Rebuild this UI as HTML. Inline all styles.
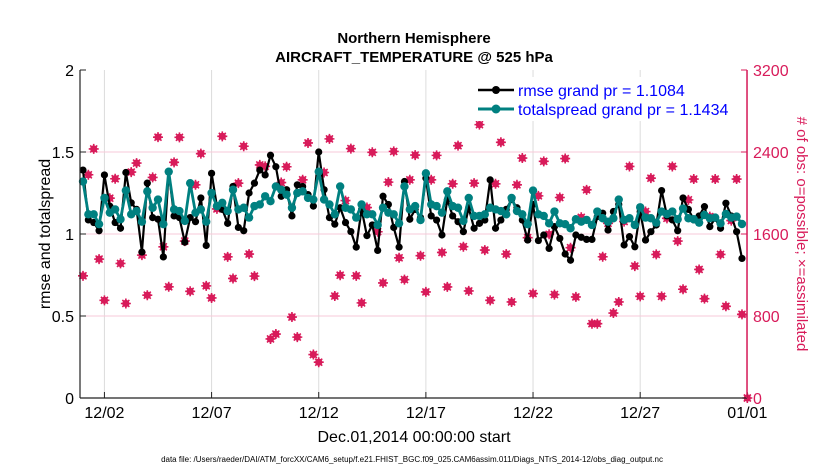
<!DOCTYPE html>
<html><head><meta charset="utf-8"><style>
body{margin:0;background:#fff;}
svg{display:block;font-family:"Liberation Sans",Arial,sans-serif;}
</style></head><body>
<svg id="chart" width="830" height="470" viewBox="0 0 830 470">
<text x="414" y="43" text-anchor="middle" font-size="15" font-weight="bold">Northern Hemisphere</text>
<text x="414" y="62" text-anchor="middle" font-size="15" font-weight="bold">AIRCRAFT_TEMPERATURE @ 525 hPa</text>
<g id="grid"></g>
<g id="obs"></g>
<g id="series"></g>
<g id="axes"></g>
<g id="legend">
<rect x="472" y="77" width="273" height="44" fill="#fff"/>
<line x1="478" y1="90" x2="514" y2="90" stroke="#000" stroke-width="2.5"/>
<circle cx="496" cy="90" r="4" fill="#000"/>
<text x="518" y="96" font-size="16" fill="#0000ff">rmse grand pr = 1.1084</text>
<line x1="478" y1="109" x2="514" y2="109" stroke="#008080" stroke-width="3"/>
<circle cx="496" cy="109" r="4.5" fill="#008080"/>
<text x="518" y="115" font-size="16" fill="#0000ff">totalspread grand pr = 1.1434</text>
</g>
<text transform="translate(50,234) rotate(-90)" text-anchor="middle" font-size="16">rmse and totalspread</text>
<text transform="translate(797,234) rotate(90)" text-anchor="middle" font-size="15" fill="#d81b5a"># of obs: o=possible; ×=assimilated</text>
<text x="414" y="442" text-anchor="middle" font-size="16">Dec.01,2014 00:00:00 start</text>
<text x="412" y="462" text-anchor="middle" font-size="8">data file: /Users/raeder/DAI/ATM_forcXX/CAM6_setup/f.e21.FHIST_BGC.f09_025.CAM6assim.011/Diags_NTrS_2014-12/obs_diag_output.nc</text>
</svg>
<script>
const rmse=[1.39,1.086,1.07,1.02,1.36,1.17,1.07,1.035,1.375,1.19,1.15,0.89,1.31,1.10,1.09,0.86,1.38,1.11,1.10,0.95,1.10,
1.075,1.22,0.93,1.37,1.17,1.15,1.065,1.29,1.04,1.02,1.25,1.31,1.39,1.36,1.48,1.41,1.23,1.27,1.11,1.30,1.29,
1.24,1.17,1.50,1.27,1.10,1.06,1.16,1.07,1.015,0.92,1.15,0.99,1.055,0.90,1.23,1.18,1.04,0.92,1.32,1.09,
1.15,1.10,1.34,1.11,1.085,0.994,1.21,1.11,1.075,1.014,1.16,1.035,1.065,1.085,1.33,1.035,1.085,1.15,1.21,1.16,1.085,
0.963,1.18,0.96,0.994,0.912,1.045,0.973,0.878,0.84,0.994,0.98,0.967,0.967,1.106,1.127,1.024,1.137,1.18,0.933,0.984,
0.922,1.137,0.963,1.014,1.055,1.265,1.11,1.086,1.02,1.22,1.15,1.086,1.11,1.167,1.045,1.096,1.035,1.188,1.11,1.014,0.851];
const spread=[1.32,1.12,1.12,1.06,1.22,1.13,1.15,1.09,1.265,1.12,1.14,1.075,1.26,1.16,1.21,1.06,1.38,1.15,1.14,1.08,1.31,
1.13,1.15,1.075,1.25,1.17,1.19,1.14,1.27,1.15,1.16,1.10,1.17,1.18,1.23,1.20,1.29,1.27,1.24,1.16,1.25,1.26,
1.22,1.21,1.38,1.21,1.18,1.12,1.29,1.16,1.15,1.10,1.18,1.12,1.12,1.055,1.16,1.13,1.12,1.065,1.29,1.15,
1.17,1.085,1.37,1.18,1.17,1.13,1.26,1.17,1.16,1.08,1.22,1.11,1.11,1.12,1.16,1.15,1.14,1.12,1.22,1.14,1.12,
1.06,1.265,1.12,1.11,1.065,1.137,1.065,1.06,1.035,1.09,1.075,1.086,1.055,1.137,1.096,1.075,1.096,1.21,1.086,1.096,
1.055,1.163,1.10,1.096,1.069,1.137,1.122,1.137,1.09,1.155,1.096,1.09,1.069,1.116,1.096,1.10,1.065,1.122,1.10,1.106,1.061];
const nobs=[1192,2178,2430,1355,953,1949,2139,1313,922,2204,2292,1394,1003,2152,2545,1475,1085,2299,2543,1531,1041,2080,2384,1094,976,1845,2553,1377,1166,2096,2456,1404,1189,2274,2260,576,624,2102,2256,790,594,2129,2488,424,349,2200,2528,995,1198,1926,2433,1192,928,1858,2397,1622,1123,2106,2406,1368,1155,2129,2370,1388,1035,2129,2367,1420,1084,2090,2462,1476,1045,2096,2667,1443,953,2090,2495,1404,937,2080,2341,1564,1019,1972,2309,1597,1009,1956,2336,1466,986,1763,2031,725,725,1378,1704,829,937,1721,2259,1287,992,1819,2145,1401,992,1753,2259,1531,1061,1933,2136,1254,969,1770,2136,1401,895,1731,2136,816,0];
const leftTicks=[0,0.5,1,1.5,2];
const rightTicks=[0,800,1600,2400,3200];
const xTickDays=[1,6,11,16,21,26,31];
const xTickLabels=["12/02","12/07","12/12","12/17","12/22","12/27","01/01"];

const NS="http://www.w3.org/2000/svg";
const L=80,R=747,T=70,B=398,X0=83,PX_DAY=21.43;
const xDay=d=>X0+d*PX_DAY;
const xIdx=i=>xDay(i/4);
const yL=v=>B-(v/2)*(B-T);
const yR=v=>B-(v/3200)*(B-T);
function mk(tag,attrs,parent){const e=document.createElementNS(NS,tag);for(const k in attrs)e.setAttribute(k,attrs[k]);parent.appendChild(e);return e;}
const grid=document.getElementById('grid'),axes=document.getElementById('axes'),obs=document.getElementById('obs'),series=document.getElementById('series');

xTickDays.forEach((d,i)=>{
  const x=xDay(d);
  const g=mk('line',{x1:x,x2:x,y1:T,y2:B,stroke:'#dcdcdc','stroke-width':1},grid);
  
  
  mk('line',{x1:x,x2:x,y1:B,y2:B-6,stroke:'#222','stroke-width':1},axes);
  const t=mk('text',{x:x,y:B+20,'text-anchor':'middle','font-size':16},axes);
  t.textContent=xTickLabels[i];
  
  
});
leftTicks.forEach(v=>{
  const y=yL(v);
  if(v>0&&v<2){const g=mk('line',{x1:L,x2:R,y1:y,y2:y,stroke:'#f7c9d8','stroke-width':1},grid);
  
  }
  mk('line',{x1:L,x2:L+6,y1:y,y2:y,stroke:'#222'},axes);
  const t=mk('text',{x:L-6,y:y+6,'text-anchor':'end','font-size':16},axes);
  t.textContent=String(v);
  
  
});
rightTicks.forEach(v=>{
  const y=yR(v);
  mk('line',{x1:R-6,x2:R,y1:y,y2:y,stroke:'#d81b5a'},axes);
  const t=mk('text',{x:R+6,y:y+6,'font-size':16,fill:'#d81b5a'},axes);
  t.textContent=String(v);
  
  
});
mk('line',{x1:L,x2:L,y1:T,y2:B,stroke:'#222','stroke-width':1.2},axes);
mk('line',{x1:L,x2:R,y1:B,y2:B,stroke:'#222','stroke-width':1.2},axes);
mk('line',{x1:R,x2:R,y1:T,y2:B,stroke:'#d81b5a','stroke-width':1.5},axes);

nobs.forEach((v,i)=>{
  const x=xIdx(i),y=yR(v);
  const g=mk('g',{},obs);
  
  
  mk('circle',{cx:x,cy:y,r:3.6,fill:'#d81b5a'},g);
  mk('path',{d:`M${x-5} ${y}H${x+5}M${x} ${y-5}V${y+5}M${x-3.5} ${y-3.5}L${x+3.5} ${y+3.5}M${x-3.5} ${y+3.5}L${x+3.5} ${y-3.5}`,stroke:'#d81b5a','stroke-width':1.6},g);
});

function drawSeries(vals,color,w,r,name){
  const pts=vals.map((v,i)=>xIdx(i).toFixed(1)+','+yL(v).toFixed(1)).join(' ');
  const pl=mk('polyline',{points:pts,fill:'none',stroke:color,'stroke-width':w,'stroke-linejoin':'round'},series);
  
  
  vals.forEach((v,i)=>{
    const c=mk('circle',{cx:xIdx(i),cy:yL(v),r:r,fill:color},series);
    
    
  });
}
drawSeries(rmse,'#000',2.2,3.6,'rmse');
drawSeries(spread,'#008080',2.8,4.2,'totalspread');
document.getElementById('chart').appendChild(document.getElementById('legend'));
</script>
</body></html>
